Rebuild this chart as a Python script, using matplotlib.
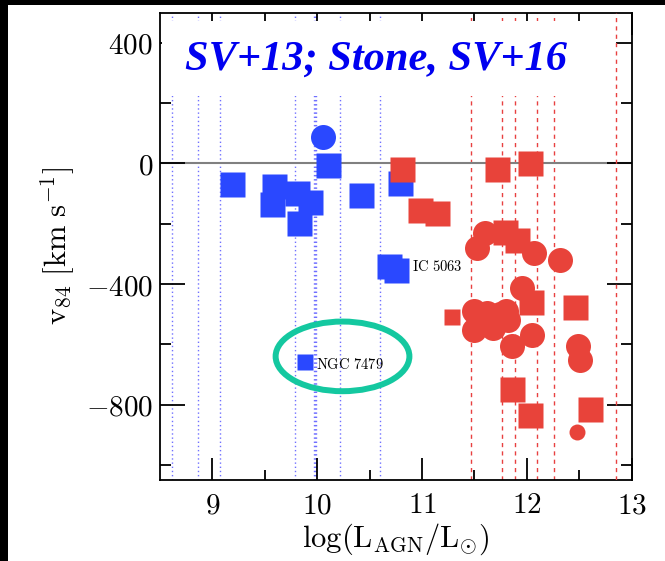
import matplotlib
matplotlib.use("Agg")
import matplotlib.pyplot as plt
from matplotlib.patches import Ellipse, Rectangle

plt.rcParams['mathtext.fontset'] = 'cm'

# blue sample (SV+13)
blue_sq_x = [9.19, 9.59, 9.57, 9.81, 9.83, 9.93, 10.10, 10.42, 10.79, 10.68, 10.75]
blue_sq_y = [-68, -75, -134, -99, -199, -128, -5, -106, -64, -340, -354]
blue_ci_x = [10.055]
blue_ci_y = [87]
blue_small_x = [9.88]
blue_small_y = [-659]

# red sample (Stone, SV+16)
red_sq_x = [10.81, 10.98, 11.14, 11.715, 12.033, 11.79, 11.91, 12.04, 12.46, 11.86, 12.03, 12.60]
red_sq_y = [-20, -153, -166, -20, 3, -227, -255, -460, -477, -747, -833, -814]
red_ci_x = [11.52, 11.60, 12.07, 12.32, 11.50, 11.50, 11.62, 11.74, 11.68, 11.82, 11.86,
            11.95, 12.05, 12.49, 12.51, 11.80]
red_ci_y = [-282, -232, -296, -321, -491, -552, -497, -500, -545, -520, -607,
            -414, -569, -607, -651, -490]
red_small_sq_x = [11.29]
red_small_sq_y = [-509]
red_small_ci_x = [12.48]
red_small_ci_y = [-891]

# vertical marker lines
blue_vlines = [8.616, 8.866, 9.075, 9.784, 9.97, 9.98, 9.99, 10.219, 10.602]
red_vlines = [11.469, 11.76, 11.889, 12.096, 12.254]
red_vline_far = [12.852]

xticks = [9, 10, 11, 12, 13]
xticklabels = ['$9$', '$10$', '$11$', '$12$', '$13$']
yticks = [-800, -400, 0, 400]
yticklabels = ['$-800$', '$-400$', '$0$', '$400$']

BLUE = '#2a48ff'
RED = '#e8433a'

fig = plt.figure(figsize=(6.65, 5.61), dpi=100)
ax = fig.add_axes([0.2406, 0.1444, 0.7094, 0.8330])
ax.set_xlim(8.5, 13)
ax.set_ylim(-1050, 500)

for x in blue_vlines:
    ax.axvline(x, color='#7070ff', lw=1.0, ls=(0, (1, 2)), zorder=1)
for x in red_vlines:
    ax.axvline(x, color='#e84040', lw=1.0, ls=(0, (3, 3)), zorder=1)
for x in red_vline_far:
    ax.axvline(x, color='#e84040', lw=1.0, ls=(0, (3, 3)), zorder=3)

ax.axhline(0, color='#808080', lw=1.5, zorder=1)

# white box behind the title
ax.add_patch(Rectangle((8.52, 225), 4.33, 248, facecolor='white', edgecolor='none', zorder=2))

ax.plot(blue_sq_x, blue_sq_y, 's', color=BLUE, ms=18, mec='none', zorder=4)
ax.plot(blue_ci_x, blue_ci_y, 'o', color=BLUE, ms=18, mec='none', zorder=4)
ax.plot(blue_small_x, blue_small_y, 's', color=BLUE, ms=12, mec='none', zorder=4)
ax.plot(red_sq_x, red_sq_y, 's', color=RED, ms=18, mec='none', zorder=5)
ax.plot(red_ci_x, red_ci_y, 'o', color=RED, ms=18, mec='none', zorder=5)
ax.plot(red_small_sq_x, red_small_sq_y, 's', color=RED, ms=12, mec='none', zorder=5)
ax.plot(red_small_ci_x, red_small_ci_y, 'o', color=RED, ms=11.5, mec='none', zorder=5)

ax.text(10.905, -342, r'$\mathrm{IC\ 5063}$', fontsize=10.5, va='center', ha='left', zorder=6)
ax.text(9.984, -668, r'$\mathrm{NGC\ 7479}$', fontsize=10.5, va='center', ha='left', zorder=6)

ax.add_patch(Ellipse((10.241, -640), 1.276, 231, fill=False, edgecolor='#14c8a0',
                     lw=4.3, zorder=7, clip_on=False))

ax.text(0.458, 0.90, 'SV+13; Stone, SV+16', transform=ax.transAxes, ha='center', va='center',
        fontsize=30.5, fontweight='bold', fontstyle='italic', family='Liberation Serif',
        color='#0000f0', zorder=8)

ax.set_xticks(xticks)
ax.set_xticklabels(xticklabels, fontsize=21)
ax.set_xticks([9.5, 10.5, 11.5, 12.5], minor=True)
ax.set_yticks(yticks)
ax.set_yticklabels(yticklabels, fontsize=21)
ax.set_yticks([-1000, -600, -200, 200], minor=True)
ax.tick_params(which='both', direction='in', top=True, right=True, width=1.3)
ax.tick_params(axis='x', which='major', length=16, pad=8)
ax.tick_params(axis='x', which='minor', length=7)
ax.tick_params(axis='y', which='major', length=18, pad=5)
ax.tick_params(axis='y', which='minor', length=8)
for s in ax.spines.values():
    s.set_linewidth(1.3)

ax.set_xlabel(r'$\log(\mathrm{L}_{\mathrm{AGN}}/\mathrm{L}_{\odot})$', fontsize=22, labelpad=2)
ax.set_ylabel(r'$\mathrm{v}_{84}\ [\mathrm{km\ s}^{-1}]$', fontsize=22, labelpad=6)

# black strips along the top and left edge
fig.patches.append(Rectangle((0, 0), 8 / 665, 1, transform=fig.transFigure,
                             facecolor='black', edgecolor='none', zorder=10))
fig.patches.append(Rectangle((0, 1 - 5 / 561), 1, 5 / 561, transform=fig.transFigure,
                             facecolor='black', edgecolor='none', zorder=10))

fig.savefig('out.png', dpi=100)
